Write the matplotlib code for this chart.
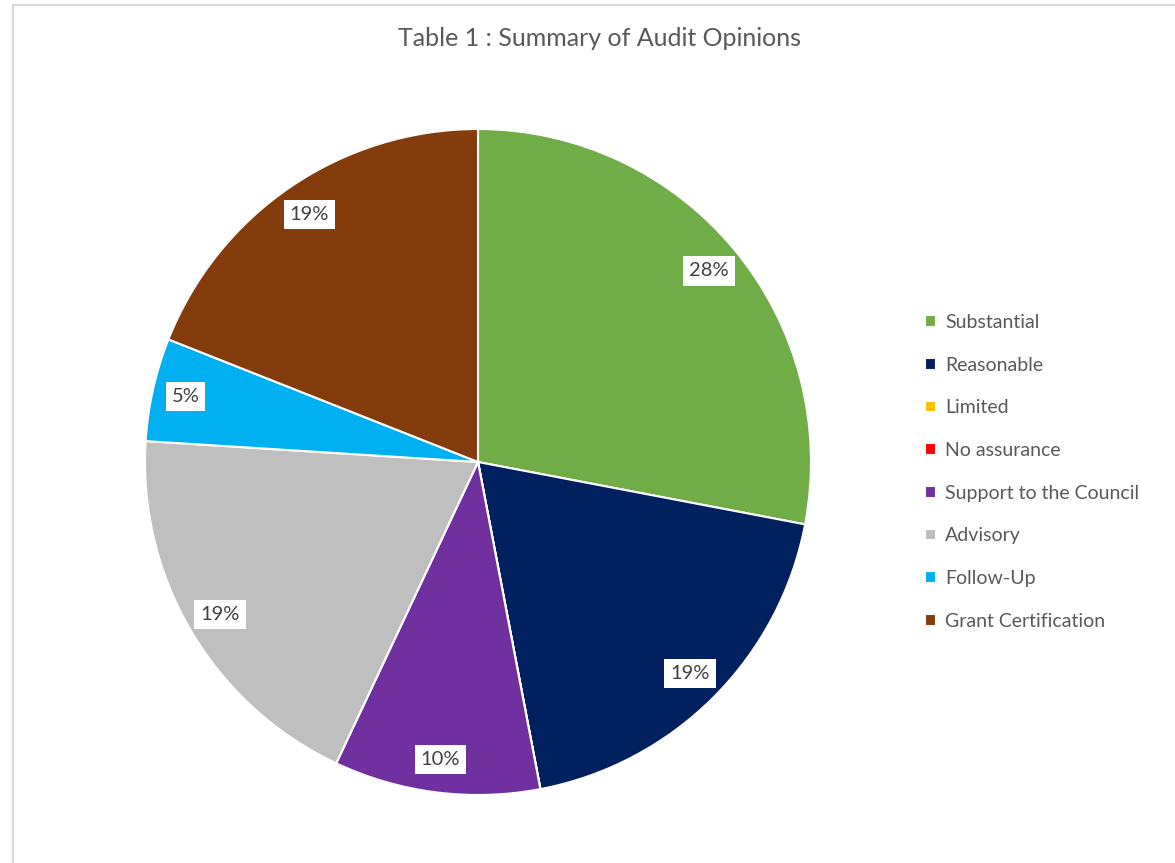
import matplotlib
matplotlib.use("Agg")
import matplotlib.pyplot as plt
from matplotlib.patches import Rectangle

plt.rcParams["font.family"] = ["Lato", "DejaVu Sans"]

categories = ["Substantial", "Reasonable", "Limited", "No assurance",
              "Support to the Council", "Advisory", "Follow-Up", "Grant Certification"]
shares = [28, 19, 0, 0, 10, 19, 5, 19]
colors = ["#70AD47", "#002060", "#FFC000", "#FF0000",
          "#7030A0", "#BFBFBF", "#00B0F0", "#843C0C"]
title = "Table 1 : Summary of Audit Opinions"
TXT = "#595959"

W, H = 1175, 863
fig = plt.figure(figsize=(W / 100, H / 100), dpi=100)

# chart-area border (left + top visible)
fig.add_artist(Rectangle((12.5 / W, -0.1), 1.2, 1.1 - 5.5 / H, transform=fig.transFigure,
                         fill=False, edgecolor="#D9D9D9", linewidth=1.5))

# pie centered at (478, 462) px, radius 333 px
cx, cy, r = 478, 462, 333
ax = fig.add_axes([(cx - r) / W, (H - cy - r) / H, 2 * r / W, 2 * r / H])


def pct(p):
    return f"{p:.0f}%" if p > 0.5 else ""


wedges, _, autotexts = ax.pie(shares, colors=colors, startangle=90, counterclock=False,
                              autopct=pct, pctdistance=0.9,
                              wedgeprops=dict(edgecolor="white", linewidth=1.5, clip_on=False))
for t in autotexts:
    t.set_fontsize(14.5)
    t.set_color("#404040")
    t.set_bbox(dict(facecolor="white", edgecolor="none", boxstyle="square,pad=0.3"))
ax.set_xlim(-1, 1)
ax.set_ylim(-1, 1)
ax.set_aspect("equal")

fig.text(599 / W, 1 - 38 / H, title, ha="center", va="center", fontsize=18, color=TXT)

fig.legend(wedges, categories, loc="upper left", bbox_to_anchor=(925 / W, 1 - 314 / H),
           frameon=False, fontsize=14, labelcolor=TXT, handlelength=0.55, handleheight=0.55,
           handletextpad=0.5, labelspacing=1.32, borderpad=0, borderaxespad=0)

fig.savefig("out.png", dpi=100)
